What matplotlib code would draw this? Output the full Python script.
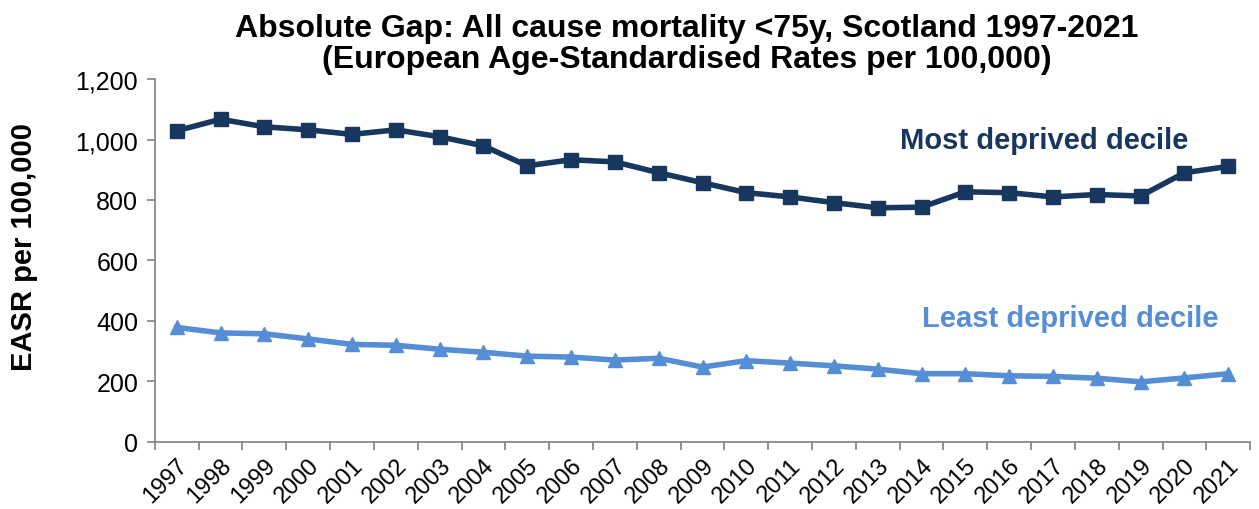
import numpy as np
import matplotlib
matplotlib.use("Agg")
import matplotlib.pyplot as plt
from matplotlib.ticker import FuncFormatter, FixedLocator

plt.rcParams['font.family'] = ['Liberation Sans', 'DejaVu Sans']

# --- Data
years = [str(y) for y in range(1997, 2022)]
most_deprived = [1029, 1067, 1042, 1032, 1017, 1032, 1009, 979, 913, 933,
                 926, 890, 857, 824, 810, 791, 774, 776, 827, 824,
                 810, 818, 813, 890, 911]
least_deprived = [378, 360, 357, 340, 322, 319, 306, 296, 283, 280,
                  270, 276, 247, 268, 260, 251, 240, 225, 225, 218,
                  216, 210, 198, 211, 225]

dark = '#17375E'
light = '#558ED5'
axis_grey = '#808080'

fig = plt.figure(figsize=(12.59, 5.10), dpi=100)
ax = fig.add_axes([0.123, 0.132, 0.870, 0.711])

x = np.arange(len(years))
ax.plot(x, most_deprived, color=dark, lw=4, marker='s', ms=10,
        solid_joinstyle='round')
ax.plot(x, least_deprived, color=light, lw=4, marker='^', ms=10,
        solid_joinstyle='round')

ax.set_xlim(-0.5, len(years) - 0.5)
ax.set_ylim(0, 1200)
ax.set_yticks(range(0, 1201, 200))
ax.yaxis.set_major_formatter(FuncFormatter(lambda v, p: f"{int(v):,}"))

ax.set_xticks(x)
ax.set_xticklabels(years, rotation=45, ha='right', rotation_mode='anchor')
ax.xaxis.set_minor_locator(FixedLocator(np.arange(-0.5, len(years), 1)))
ax.tick_params(axis='x', which='major', length=0, pad=9, labelsize=17)
ax.tick_params(axis='x', which='minor', length=6, color=axis_grey, width=1.2)
ax.tick_params(axis='y', length=6, color=axis_grey, width=1.2, labelsize=18,
               pad=6)

for s in ['top', 'right']:
    ax.spines[s].set_visible(False)
for s in ['left', 'bottom']:
    ax.spines[s].set_color(axis_grey)
    ax.spines[s].set_linewidth(1.2)

ax.set_ylabel('EASR per 100,000', fontsize=21, fontweight='bold')
ax.yaxis.set_label_coords(-0.107, 0.54)
ax.set_title('Absolute Gap: All cause mortality <75y, Scotland 1997-2021\n'
             '(European Age-Standardised Rates per 100,000)',
             fontsize=23, fontweight='bold', pad=9, linespacing=1.02, x=0.486)

ax.text(19.8, 1000, 'Most deprived decile', color=dark, fontsize=21,
        fontweight='bold', ha='center', va='center')
ax.text(20.4, 410, 'Least deprived decile', color=light, fontsize=21,
        fontweight='bold', ha='center', va='center')

fig.savefig('out.png', dpi=100)
